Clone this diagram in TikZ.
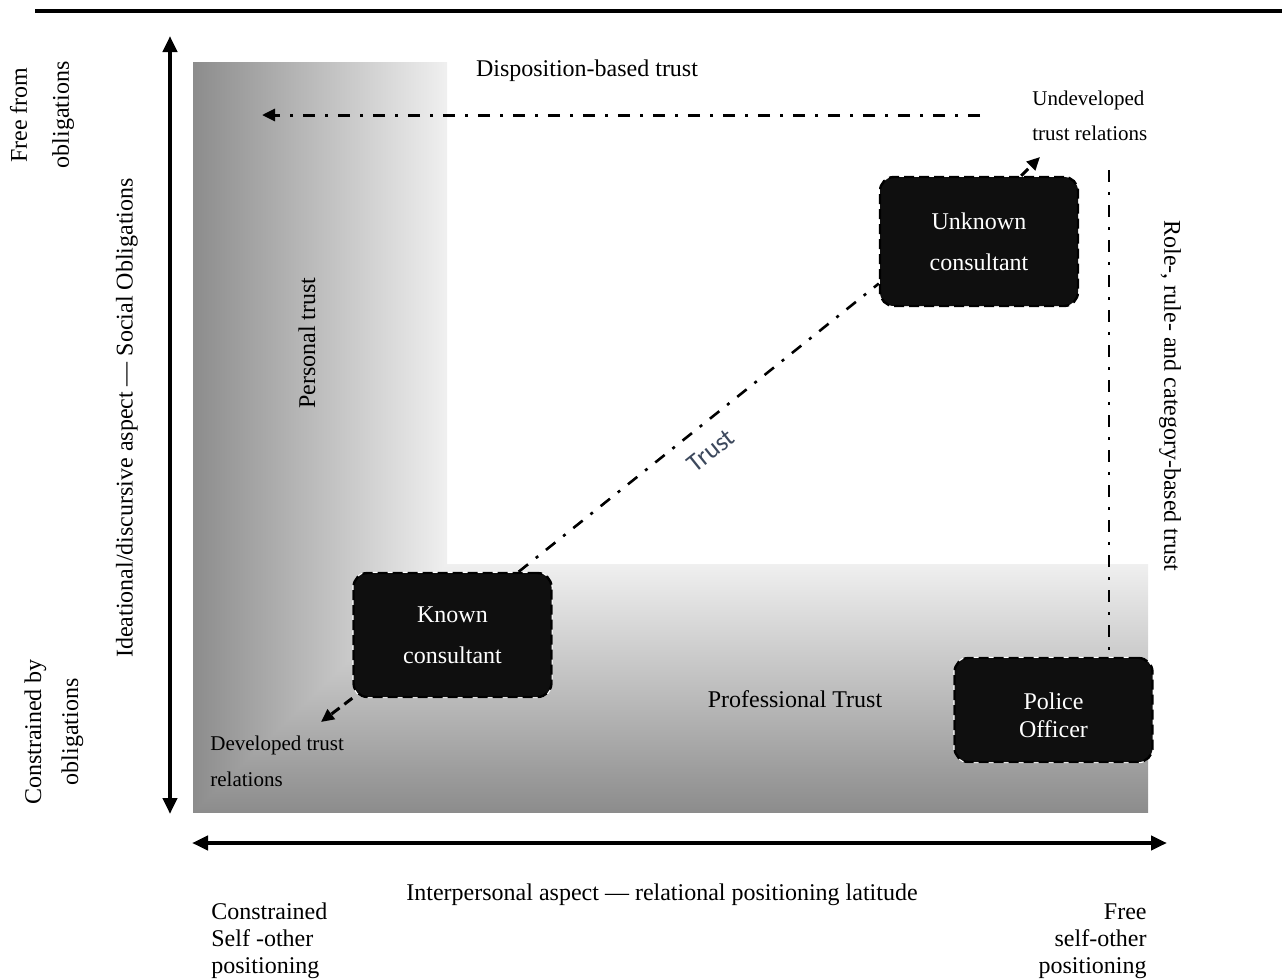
\documentclass[tikz,border=0pt]{standalone}
\usepackage{fontspec}
\setmainfont{Liberation Serif}
\newfontfamily\calib{Carlito}
\usetikzlibrary{arrows.meta,calc}
\definecolor{trustc}{RGB}{60,72,92}
\begin{document}
\begin{tikzpicture}[x=0.5pt,y=-0.5pt,
  box/.style={rounded corners=7pt, fill=black!94, draw=black, dash pattern=on 5pt off 2.5pt, line width=1.2pt,
    preaction={draw=white, solid, line width=1.2pt}, text=white,
    font=\fontsize{12}{20.5}\selectfont, align=center, minimum width=99pt, inner sep=0pt},
  dashdot/.style={line width=1.5pt, dash pattern=on 6pt off 5pt on 1.5pt off 5pt},
  shortdash/.style={line width=1.5pt, dash pattern=on 5pt off 3pt},
  lbl/.style={font=\fontsize{12}{14}\selectfont, inner sep=0pt},
  smalllbl/.style={font=\fontsize{10.5}{17.5}\selectfont, inner sep=0pt, align=left, anchor=west},
  axis/.style={line width=2pt, {Triangle[length=8pt,width=7pt]}-{Triangle[length=8pt,width=7pt]}},
  tip/.style={-{Triangle[length=6.5pt,width=6pt]}},
]
\useasboundingbox (0,0) rectangle (1282,980);

% shaded regions
\shade[left color=black!45, right color=black!6] (193,62) rectangle (447,812);
\begin{scope}[blend mode=darken]
\shade[top color=black!6, bottom color=black!45] (193,564) rectangle (1148,812);
\end{scope}

% top rule
\coordinate (ruleL) at (35,11);
\coordinate (ruleR) at (1282,11);
\draw[line width=2pt] (ruleL) -- (ruleR);

% axes
\coordinate (vtop) at (170,36);
\coordinate (vbot) at (170,814);
\draw[axis] (vbot) -- (vtop);
\coordinate (hleft) at (192,843);
\coordinate (hright) at (1167,843);
\draw[axis] (hleft) -- (hright);

% labels
\node[lbl, rotate=90, align=center, font=\fontsize{12}{21}\selectfont] (free) at (42,115) {Free from\\obligations};
\node[lbl, rotate=90, align=center, font=\fontsize{12}{18.5}\selectfont] (constr) at (54,732) {Constrained by\\obligations};
\node[lbl, rotate=90] (ideational) at (127,418) {Ideational/discursive aspect — Social Obligations};
\node[lbl, rotate=90] (personal) at (307,343) {Personal trust};
\node[lbl, rotate=-90] (role) at (1170,396) {Role-, rule- and category-based trust};
\node[lbl] (disp) at (587,71) {Disposition-based trust};
\node[smalllbl] (undev) at (1032,116) {Undeveloped\\trust relations};
\node[smalllbl, font=\fontsize{10.5}{18}\selectfont] (dev) at (210,761) {Developed trust\\relations};
\node[lbl] (prof) at (795,699) {Professional Trust};
\node[lbl] (inter) at (662,895) {Interpersonal aspect — relational positioning latitude};
\node[lbl, anchor=west, align=left, font=\fontsize{12}{13.5}\selectfont] (cso) at (211,941) {Constrained\\Self -other\\positioning};
\node[lbl, anchor=east, align=right, font=\fontsize{12}{13.5}\selectfont] (fso) at (1147,941) {Free\\self-other\\positioning};

% boxes
\node[box, minimum height=64.5pt] (unknown) at (979,241.5) {Unknown\\consultant};
\node[box, minimum height=62pt] (known) at (452.5,635) {Known\\consultant};
\node[box, minimum height=52pt, font=\fontsize{12}{14}\selectfont] (police) at (1053.5,710) {\rule{0pt}{14pt}Police\\Officer};

% connectors
\coordinate (dispstart) at (980,115);
\coordinate (dispend) at (262,115);
\draw[dashdot, tip] (dispstart) -- (dispend);

\draw[dashdot, line width=1.3pt] ($(known.north west)!0.83!(known.north east)$) --
  node[sloped, below=8pt, pos=0.49, inner sep=0pt, font=\calib\fontsize{13}{15}\selectfont, text=trustc] (trustlbl) {Trust}
  ($(unknown.north west)!0.82!(unknown.south west)$);

\coordinate (undevtip) at (1040,157);
\draw[shortdash, tip] ($(unknown.north west)!0.71!(unknown.north east)$) -- (undevtip);
\coordinate (devtip) at (321,722);
\draw[shortdash, tip] (known.south west) -- (devtip);

\coordinate (rolestart) at (1109,170);
\draw[dashdot, line width=1.3pt] (rolestart) -- (rolestart |- police.north);
\end{tikzpicture}
\end{document}
